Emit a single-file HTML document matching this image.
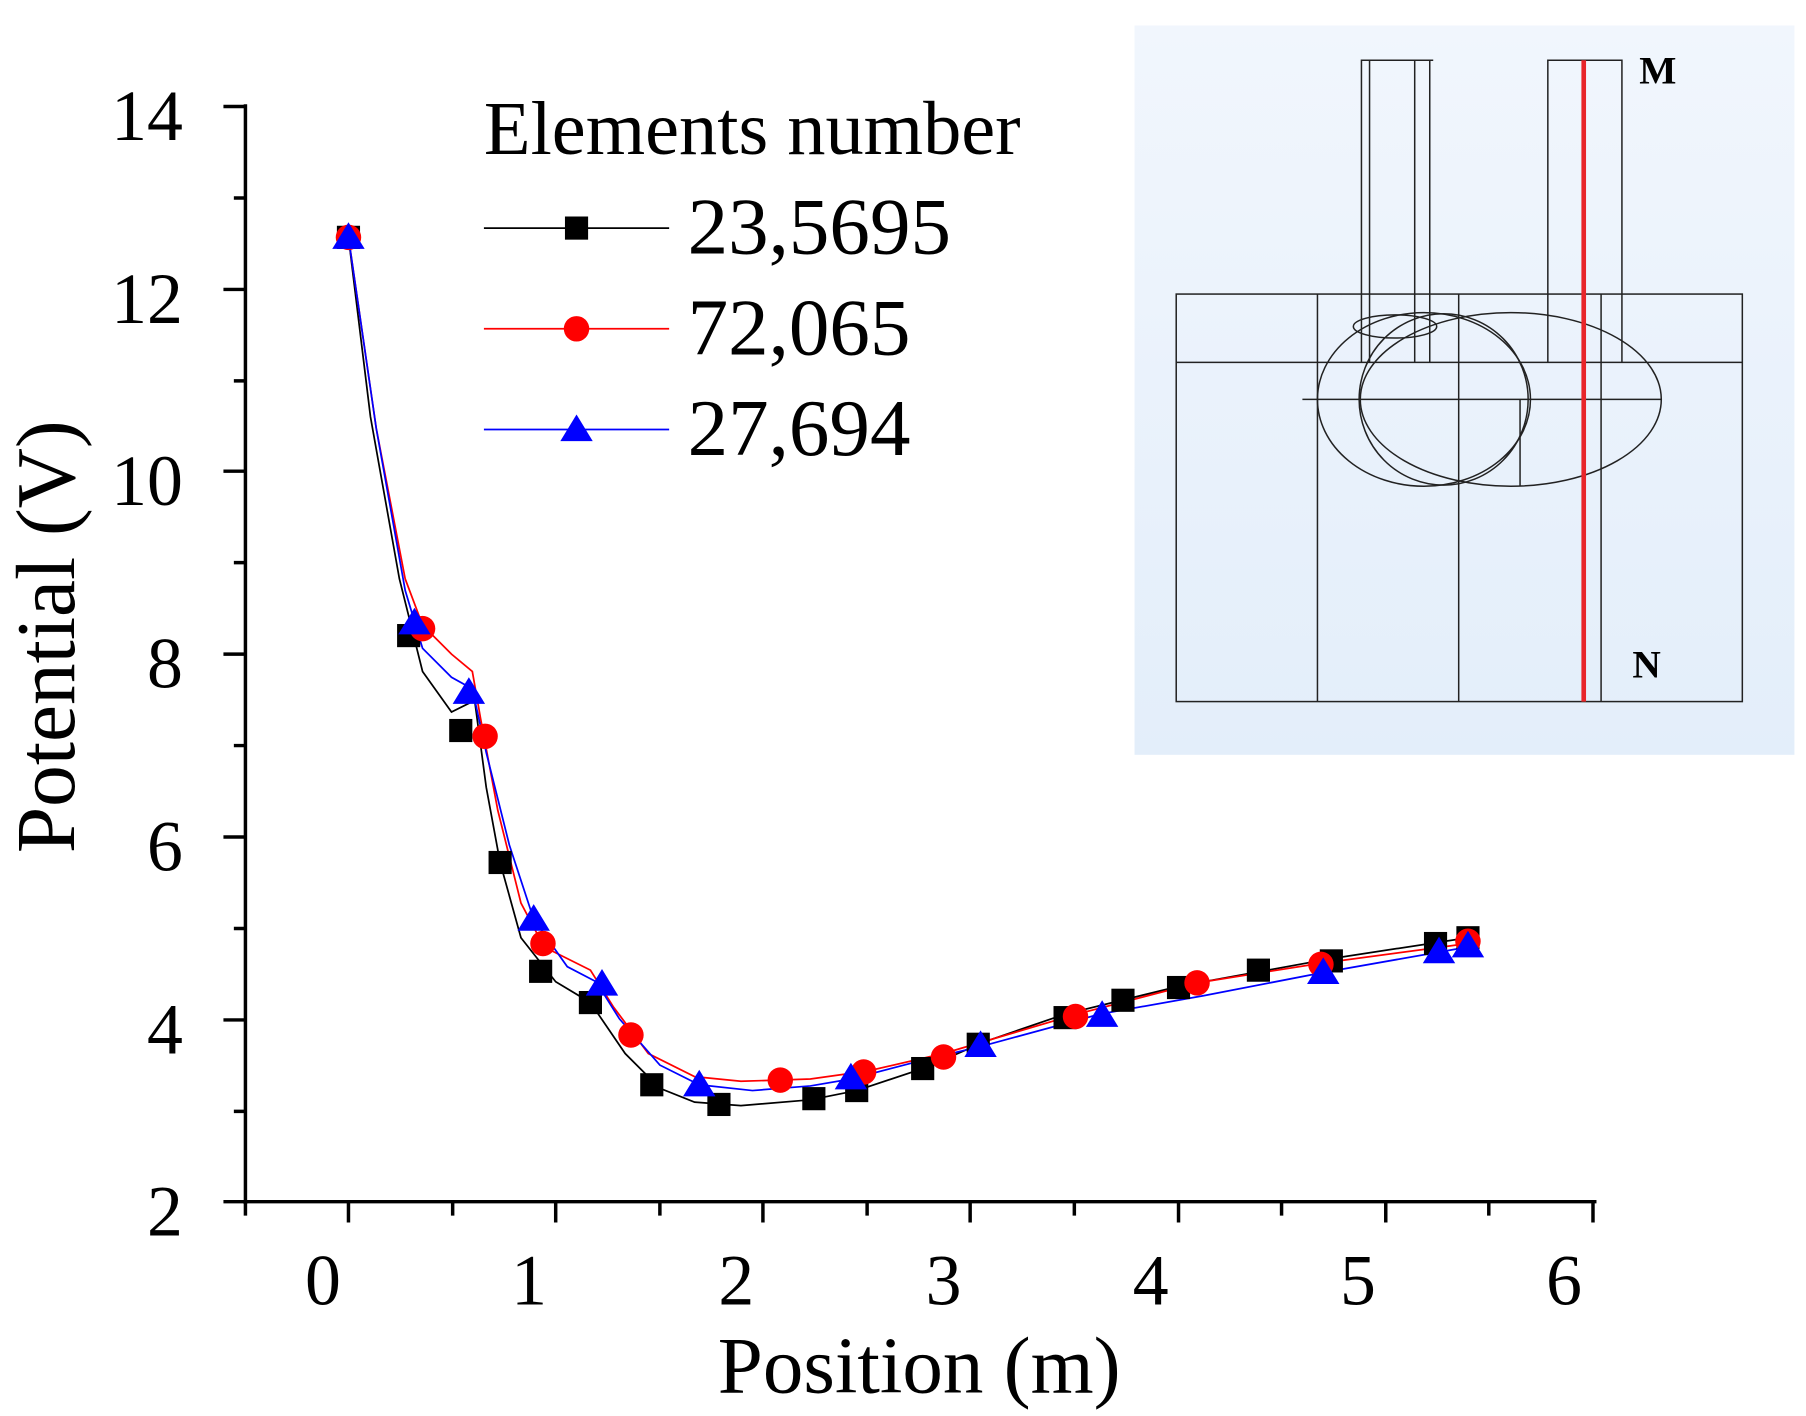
<!DOCTYPE html>
<html><head><style>body{margin:0;background:#fff}svg{display:block}</style></head>
<body>
<svg width="1806" height="1416" viewBox="0 0 1560 1223.1" xmlns="http://www.w3.org/2000/svg" font-family="Liberation Serif, serif">
<defs><linearGradient id="g" x1="0" y1="0" x2="0" y2="1"><stop offset="0" stop-color="#f1f6fd"/><stop offset="1" stop-color="#e3eefa"/></linearGradient></defs>
<rect x="980" y="22" width="570" height="630" fill="url(#g)"/>
<g fill="none" stroke="#222" stroke-width="1.3">
<rect x="1016" y="254" width="489" height="352"/>
<line x1="1016" y1="313" x2="1505" y2="313"/>
<line x1="1138" y1="254" x2="1138" y2="606"/>
<line x1="1260" y1="254" x2="1260" y2="606"/>
<line x1="1383" y1="254" x2="1383" y2="606"/>
<line x1="1125" y1="345" x2="1435" y2="345"/>
<line x1="1313" y1="345" x2="1313" y2="420"/>
<path d="M1176 313V52H1238M1183 52V313M1222 52V313M1235 52V313"/>
<path d="M1337 313V52H1401V313"/>
<ellipse cx="1230" cy="345" rx="92" ry="75"/>
<ellipse cx="1247" cy="345" rx="73" ry="74"/>
<ellipse cx="1305" cy="345" rx="130" ry="75"/>
<ellipse cx="1205" cy="282" rx="36" ry="10"/>
</g>
<line x1="1368" y1="52" x2="1368" y2="606" stroke="#e8252a" stroke-width="4"/>
<text x="1416" y="72" font-size="34" font-weight="bold">M</text>
<text x="1410" y="585" font-size="34" font-weight="bold">N</text>
<g stroke="#000" stroke-width="3" fill="none">
<line x1="212" y1="90" x2="212" y2="1040"/>
<line x1="210" y1="1038" x2="1379" y2="1038"/>
<path d="M193 92H212M193 250H212M193 407H212M193 565H212M193 723H212M193 881H212M193 1038H212"/>
<path d="M202 171H212M202 329H212M202 486H212M202 644H212M202 802H212M202 960H212"/>
<path d="M301 1038V1056M480 1038V1056M659 1038V1056M838 1038V1056M1018 1038V1056M1197 1038V1056M1376 1038V1056"/>
<path d="M212 1038V1050M391 1038V1050M570 1038V1050M749 1038V1050M928 1038V1050M1107 1038V1050M1286 1038V1050"/>
</g>
<g font-size="62" text-anchor="end">
<text x="158" y="121">14</text><text x="158" y="279">12</text><text x="158" y="436">10</text>
<text x="158" y="594">8</text><text x="158" y="752">6</text><text x="158" y="910">4</text><text x="158" y="1067">2</text>
</g>
<g font-size="62" text-anchor="middle">
<text x="279" y="1127">0</text><text x="457" y="1127">1</text><text x="636" y="1127">2</text>
<text x="815" y="1127">3</text><text x="994" y="1127">4</text><text x="1173" y="1127">5</text><text x="1351" y="1127">6</text>
</g>
<text x="794" y="1203" font-size="70" text-anchor="middle">Position (m)</text>
<text transform="translate(64,550) rotate(-90)" font-size="72" text-anchor="middle">Potential (V)</text>
<text x="418" y="133" font-size="66">Elements number</text>
<line x1="418" y1="197" x2="578" y2="197" stroke="#000" stroke-width="1.5"/><rect x="488" y="187" width="20" height="20" fill="#000"/>
<text x="594" y="219" font-size="70">23,5695</text>
<line x1="418" y1="284" x2="578" y2="284" stroke="#f00" stroke-width="1.5"/><circle cx="498" cy="284" r="11" fill="#f00"/>
<text x="594" y="306" font-size="70">72,065</text>
<line x1="418" y1="371" x2="578" y2="371" stroke="#00f" stroke-width="1.5"/><polygon points="498,358 512,381 484,381" fill="#00f"/>
<text x="594" y="393" font-size="70">27,694</text>
<polyline fill="none" stroke="#000" stroke-width="1.5" points="301,205 320,360 345,500 365,580 390,615 410,605 420,680 432,745 450,810 480,848 510,866 540,910 570,940 600,952 640,955 700,950 740,942 800,922 850,900 920,876 1018,852 1150,828 1268,810"/>
<polyline fill="none" stroke="#f00" stroke-width="1.5" points="301,205 325,370 350,500 365,540 390,565 408,580 415,620 430,700 450,780 470,818 510,838 530,870 560,910 600,930 640,934 700,932 750,925 815,910 930,876 1034,849 1141,832 1268,815"/>
<polyline fill="none" stroke="#00f" stroke-width="1.5" points="301,205 325,370 350,510 365,560 390,585 408,595 420,650 440,730 461,794 490,835 515,848 535,880 570,920 604,937 650,942 700,938 735,932 800,915 847,904 950,876 1040,860 1143,840 1268,818"/>
<g fill="#000">
<rect x="291" y="195" width="20" height="20"/><rect x="343" y="539" width="20" height="20"/><rect x="388" y="621" width="20" height="20"/><rect x="422" y="735" width="20" height="20"/><rect x="457" y="829" width="20" height="20"/><rect x="500" y="856" width="20" height="20"/><rect x="553" y="927" width="20" height="20"/><rect x="611" y="944" width="20" height="20"/><rect x="693" y="939" width="20" height="20"/><rect x="730" y="932" width="20" height="20"/><rect x="787" y="913" width="20" height="20"/><rect x="835" y="892" width="20" height="20"/><rect x="910" y="869" width="20" height="20"/><rect x="960" y="854" width="20" height="20"/><rect x="1008" y="843" width="20" height="20"/><rect x="1077" y="828" width="20" height="20"/><rect x="1140" y="820" width="20" height="20"/><rect x="1230" y="805" width="20" height="20"/><rect x="1258" y="800" width="20" height="20"/>
</g>
<g fill="#f00">
<circle cx="301" cy="205" r="11"/><circle cx="365" cy="543" r="11"/><circle cx="419" cy="636" r="11"/><circle cx="469" cy="815" r="11"/><circle cx="545" cy="894" r="11"/><circle cx="674" cy="933" r="11"/><circle cx="746" cy="926" r="11"/><circle cx="815" cy="913" r="11"/><circle cx="929" cy="878" r="11"/><circle cx="1034" cy="849" r="11"/><circle cx="1141" cy="833" r="11"/><circle cx="1268" cy="813" r="11"/>
</g>
<g fill="#00f">
<polygon points="301,192 315,215 287,215"/><polygon points="358,525 372,548 344,548"/><polygon points="405,585 419,608 391,608"/><polygon points="461,781 475,804 447,804"/><polygon points="520,837 534,860 506,860"/><polygon points="604,924 618,947 590,947"/><polygon points="735,918 749,941 721,941"/><polygon points="847,890 861,913 833,913"/><polygon points="952,864 966,887 938,887"/><polygon points="1143,827 1157,850 1129,850"/><polygon points="1243,809 1257,832 1229,832"/><polygon points="1268,804 1282,827 1254,827"/>
</g>
</svg>
</body></html>
